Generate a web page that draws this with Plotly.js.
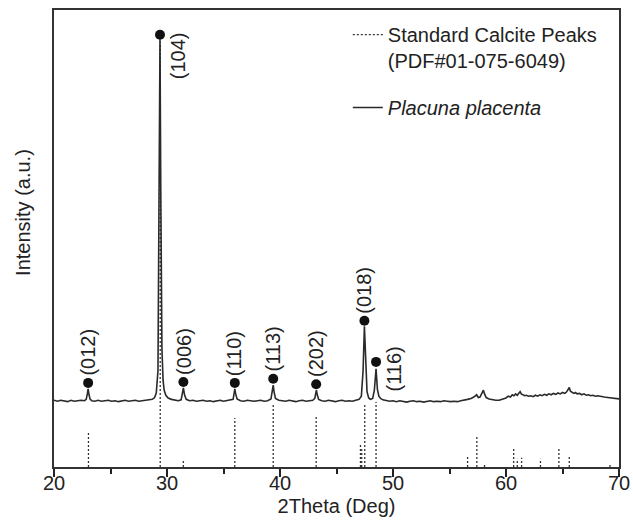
<!DOCTYPE html>
<html>
<head>
<meta charset="utf-8">
<script src="https://cdn.plot.ly/plotly-3.0.1.min.js"></script>
<style>html,body{margin:0;padding:0;background:#fff;}#chart{width:633px;height:530px;}</style>
</head>
<body>
<div id="chart"></div>
<script>
// Measured XRD spectrum (2Theta in degrees, intensity in a.u.)
const specX = [20.0,20.3,20.6,20.9,21.2,21.5,21.8,22.1,22.4,22.7,22.85,22.95,23.02,23.1,23.2,23.35,23.6,23.9,24.2,24.5,24.8,25.1,25.4,25.7,26.0,26.3,26.6,26.9,27.2,27.5,27.8,28.1,28.4,28.7,28.9,29.05,29.2,29.3,29.38,29.45,29.55,29.65,29.75,29.9,30.1,30.4,30.7,31.0,31.25,31.35,31.45,31.55,31.7,32.0,32.3,32.6,32.9,33.2,33.5,33.8,34.1,34.4,34.7,35.0,35.3,35.6,35.85,35.95,36.0,36.08,36.2,36.5,36.8,37.1,37.4,37.7,38.0,38.3,38.6,38.9,39.2,39.32,39.4,39.48,39.6,39.9,40.2,40.5,40.8,41.1,41.4,41.7,42.0,42.3,42.6,42.9,43.08,43.15,43.22,43.3,43.42,43.7,44.0,44.3,44.6,44.9,45.2,45.5,45.8,46.1,46.4,46.7,47.0,47.2,47.35,47.47,47.58,47.7,47.85,48.0,48.2,48.35,48.5,48.62,48.75,48.9,49.1,49.4,49.7,50.0,50.3,50.6,50.9,51.2,51.5,51.8,52.1,52.4,52.7,53.0,53.3,53.6,53.9,54.2,54.5,54.8,55.1,55.4,55.7,56.0,56.3,56.6,56.9,57.15,57.4,57.55,57.7,57.85,58.0,58.1,58.25,58.5,58.8,59.1,59.4,59.7,60.0,60.2,60.4,60.55,60.7,60.85,61.0,61.15,61.25,61.35,61.5,61.65,61.8,62.0,62.2,62.4,62.6,62.8,63.0,63.2,63.4,63.6,63.8,64.0,64.2,64.4,64.6,64.8,65.0,65.2,65.35,65.5,65.6,65.7,65.85,66.0,66.15,66.3,66.5,66.7,66.9,67.1,67.3,67.5,67.7,67.9,68.1,68.4,68.7,69.0,69.3,69.6,70.0];
const specY = [146,144,146,145,143,146,144,145,146,145,148,160,171,158,148,145,144,146,144,145,146,144,145,143,145,146,144,145,146,144,145,146,147,148,152,162,210,600,936,600,260,190,168,157,151,148,146,145,147,160,173,158,148,145,146,144,145,146,144,145,143,145,146,144,145,146,148,163,171,160,149,145,144,146,145,144,145,146,144,145,149,165,179,164,150,146,145,144,146,145,143,145,146,144,145,146,150,162,168,158,148,145,144,146,145,143,145,146,144,145,144,146,148,155,210,308,215,165,151,148,150,168,215,170,155,150,147,145,144,145,143,145,144,142,144,145,143,144,142,144,145,143,144,143,145,144,143,144,143,145,146,148,150,153,158,152,153,162,168,160,152,149,147,146,146,148,151,155,153,158,156,160,157,162,165,160,158,156,157,155,156,154,157,155,158,156,159,157,160,158,161,159,162,160,163,161,164,170,174,166,163,161,163,160,161,158,160,157,158,156,157,155,156,154,153,152,151,150,149];

// Standard calcite reference peaks (PDF#01-075-6049)
const stdX = [23.05,29.4,31.45,36.0,39.4,43.2,47.12,47.23,47.5,48.5,56.6,57.42,58.1,60.68,61.0,61.38,63.05,64.68,65.6,69.2];
const stdH = [77,930,15,107,136,114,48,39,140,142,24,68,9,42,18,20,18,44,24,9];

// Indexed peaks (Miller indices) and marker heights
const hklX = [23.02,29.38,31.45,36.0,39.4,43.2,47.47,48.5];
const hklY = [184,946,186,184,193,181,320,230];
const hklLabels = ['(012)','(104)','(006)','(110)','(113)','(202)','(018)','(116)'];

// labels placed to the right of their marker (style choice)
const sideLabels = ['(104)','(116)'];

// tick positions on the 2Theta axis
const majorTicks = [20, 30, 40, 50, 60, 70];
const minorTicks = [25, 35, 45, 55, 65];

const FONT = 'Liberation Sans, Arial, sans-serif';
const ink = '#222';

// build dotted stick lines from the reference arrays
const sx = [], sy = [];
stdX.forEach((x, i) => { sx.push(x, x, null); sy.push(0, stdH[i], null); });

const traces = [
  {
    x: sx, y: sy, type: 'scatter', mode: 'lines',
    name: 'Standard Calcite Peaks<br>(PDF#01-075-6049)',
    legendgroup: 'std',
    line: {color: '#333', width: 1.3, dash: '2px,2px'},
    hoverinfo: 'skip'
  },
  {
    x: specX, y: specY, type: 'scatter', mode: 'lines',
    name: '<i>Placuna placenta</i>',
    legendgroup: 'sample',
    line: {color: '#2a2a2a', width: 1.6}
  },
  {
    x: hklX, y: hklY, type: 'scatter', mode: 'markers',
    showlegend: false,
    marker: {color: '#111', size: 10}
  }
];

const annotations = hklLabels.map((t, i) => {
  const side = sideLabels.includes(t);
  return {
    x: hklX[i], y: hklY[i], xref: 'x', yref: 'y',
    text: t, showarrow: false, textangle: -90,
    font: {family: FONT, size: 20, color: ink},
    xanchor: side ? 'left' : 'center',
    yanchor: side ? 'top' : 'bottom',
    xshift: side ? 5 : 0,
    yshift: side ? (t === '(116)' ? 17 : 5) : 5
  };
});

// y-axis title placed as a paper annotation (sits above the plot centre)
annotations.push({
  xref: 'paper', yref: 'paper', x: 0, y: 0.556,
  xanchor: 'center', yanchor: 'middle', xshift: -31,
  text: 'Intensity (a.u.)', showarrow: false, textangle: -90,
  font: {family: FONT, size: 20, color: ink}
});

const layout = {
  width: 633, height: 530,
  margin: {l: 54, r: 14, t: 10, b: 63},
  paper_bgcolor: '#fff', plot_bgcolor: 'rgba(0,0,0,0)',
  font: {family: FONT, size: 20, color: ink},
  showlegend: true,
  legend: {
    x: 0.52, xanchor: 'left', y: 0.989, yanchor: 'top',
    bgcolor: 'rgba(0,0,0,0)', borderwidth: 0,
    font: {family: FONT, size: 20, color: ink},
    traceorder: 'grouped', tracegroupgap: 18, valign: 'top'
  },
  xaxis: {
    range: [20, 70], tickmode: 'array', tickvals: majorTicks,
    ticks: 'outside', ticklen: 8, tickwidth: 2, tickcolor: '#222',
    ticklabelstandoff: -11,
    minor: {tickmode: 'array', tickvals: minorTicks, ticks: 'outside', ticklen: 5, tickwidth: 2, tickcolor: '#222'},
    showline: true, linewidth: 2, linecolor: '#333', mirror: true,
    showgrid: false, zeroline: false,
    tickfont: {family: FONT, size: 20, color: ink},
    title: {text: '2Theta (Deg)', font: {family: FONT, size: 20, color: ink}, standoff: 6}
  },
  yaxis: {
    range: [0, 1000], showticklabels: false, ticks: '',
    showline: true, linewidth: 2, linecolor: '#333', mirror: true,
    showgrid: false, zeroline: false
  },
  annotations: annotations
};

Plotly.newPlot('chart', traces, layout, {displayModeBar: false, staticPlot: true});
</script>
</body>
</html>
